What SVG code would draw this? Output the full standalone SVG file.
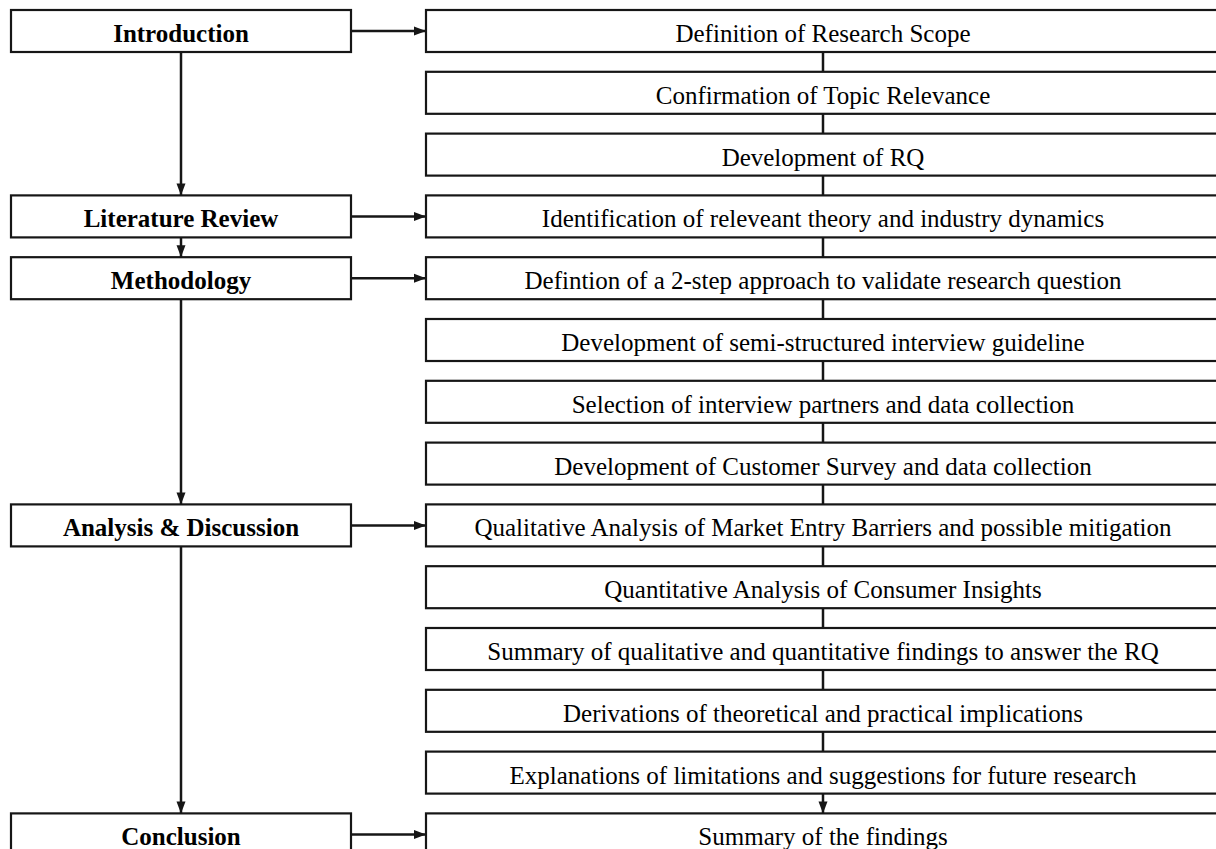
<svg xmlns="http://www.w3.org/2000/svg" width="1216" height="849" viewBox="0 0 1216 849">
<defs>
<style>
.box{fill:#fff;stroke:#161616;stroke-width:2.2}
.lt{font-family:"Liberation Serif","Times New Roman",serif;font-size:25px;font-weight:bold;fill:#000;text-anchor:middle}
.rt{font-family:"Liberation Serif","Times New Roman",serif;font-size:25px;fill:#000;text-anchor:middle}
.ln{fill:none;stroke:#161616;stroke-width:2.5}
</style>
<marker id="ah" viewBox="0 0 12 10" refX="12" refY="5" markerWidth="12" markerHeight="10" markerUnits="userSpaceOnUse" orient="auto">
<path d="M0,0.5 L12,5 L0,9.5 Z" fill="#161616"/>
</marker>
</defs>
<rect width="1216" height="849" fill="#fff"/>
<g id="connectors">
<line class="ln" x1="351" y1="31" x2="426" y2="31" marker-end="url(#ah)"/>
<line class="ln" x1="351" y1="216.4" x2="426" y2="216.4" marker-end="url(#ah)"/>
<line class="ln" x1="351" y1="278.2" x2="426" y2="278.2" marker-end="url(#ah)"/>
<line class="ln" x1="351" y1="525.4" x2="426" y2="525.4" marker-end="url(#ah)"/>
<line class="ln" x1="351" y1="834.4" x2="426" y2="834.4" marker-end="url(#ah)"/>
<line class="ln" x1="181" y1="52" x2="181" y2="195.4" marker-end="url(#ah)"/>
<line class="ln" x1="181" y1="237.4" x2="181" y2="257.2" marker-end="url(#ah)"/>
<line class="ln" x1="181" y1="299.2" x2="181" y2="504.4" marker-end="url(#ah)"/>
<line class="ln" x1="181" y1="546.4" x2="181" y2="813.4" marker-end="url(#ah)"/>
<line class="ln" x1="823" y1="52" x2="823" y2="71.8"/>
<line class="ln" x1="823" y1="113.8" x2="823" y2="133.6"/>
<line class="ln" x1="823" y1="175.6" x2="823" y2="195.4"/>
<line class="ln" x1="823" y1="237.4" x2="823" y2="257.2"/>
<line class="ln" x1="823" y1="299.2" x2="823" y2="319"/>
<line class="ln" x1="823" y1="361" x2="823" y2="380.8"/>
<line class="ln" x1="823" y1="422.8" x2="823" y2="442.6"/>
<line class="ln" x1="823" y1="484.6" x2="823" y2="504.4"/>
<line class="ln" x1="823" y1="546.4" x2="823" y2="566.2"/>
<line class="ln" x1="823" y1="608.2" x2="823" y2="628"/>
<line class="ln" x1="823" y1="670" x2="823" y2="689.8"/>
<line class="ln" x1="823" y1="731.8" x2="823" y2="751.6"/>
<line class="ln" x1="823" y1="793.6" x2="823" y2="813.4" marker-end="url(#ah)"/>
</g>
<g id="n-intro"><rect class="box" x="11" y="10" width="340" height="42"/><text class="lt" x="181" y="42">Introduction</text></g>
<g id="n-lit"><rect class="box" x="11" y="195.4" width="340" height="42"/><text class="lt" x="181" y="227.4">Literature Review</text></g>
<g id="n-meth"><rect class="box" x="11" y="257.2" width="340" height="42"/><text class="lt" x="181" y="289.2">Methodology</text></g>
<g id="n-ana"><rect class="box" x="11" y="504.4" width="340" height="42"/><text class="lt" x="181" y="536.4">Analysis &amp; Discussion</text></g>
<g id="n-conc"><rect class="box" x="11" y="813.4" width="340" height="42"/><text class="lt" x="181" y="845.4">Conclusion</text></g>
<g id="r0"><rect class="box" x="426" y="10" width="800" height="42"/><text class="rt" x="823" y="42">Definition of Research Scope</text></g>
<g id="r1"><rect class="box" x="426" y="71.8" width="800" height="42"/><text class="rt" x="823" y="103.8">Confirmation of Topic Relevance</text></g>
<g id="r2"><rect class="box" x="426" y="133.6" width="800" height="42"/><text class="rt" x="823" y="165.6">Development of RQ</text></g>
<g id="r3"><rect class="box" x="426" y="195.4" width="800" height="42"/><text class="rt" x="823" y="227.4">Identification of releveant theory and industry dynamics</text></g>
<g id="r4"><rect class="box" x="426" y="257.2" width="800" height="42"/><text class="rt" x="823" y="289.2">Defintion of a 2-step approach to validate research question</text></g>
<g id="r5"><rect class="box" x="426" y="319" width="800" height="42"/><text class="rt" x="823" y="351">Development of semi-structured interview guideline</text></g>
<g id="r6"><rect class="box" x="426" y="380.8" width="800" height="42"/><text class="rt" x="823" y="412.8">Selection of interview partners and data collection</text></g>
<g id="r7"><rect class="box" x="426" y="442.6" width="800" height="42"/><text class="rt" x="823" y="474.6">Development of Customer Survey and data collection</text></g>
<g id="r8"><rect class="box" x="426" y="504.4" width="800" height="42"/><text class="rt" x="823" y="536.4">Qualitative Analysis of Market Entry Barriers and possible mitigation</text></g>
<g id="r9"><rect class="box" x="426" y="566.2" width="800" height="42"/><text class="rt" x="823" y="598.2">Quantitative Analysis of Consumer Insights</text></g>
<g id="r10"><rect class="box" x="426" y="628" width="800" height="42"/><text class="rt" x="823" y="660">Summary of qualitative and quantitative findings to answer the RQ</text></g>
<g id="r11"><rect class="box" x="426" y="689.8" width="800" height="42"/><text class="rt" x="823" y="721.8">Derivations of theoretical and practical implications</text></g>
<g id="r12"><rect class="box" x="426" y="751.6" width="800" height="42"/><text class="rt" x="823" y="783.6">Explanations of limitations and suggestions for future research</text></g>
<g id="r13"><rect class="box" x="426" y="813.4" width="800" height="42"/><text class="rt" x="823" y="845.4">Summary of the findings</text></g>
</svg>
